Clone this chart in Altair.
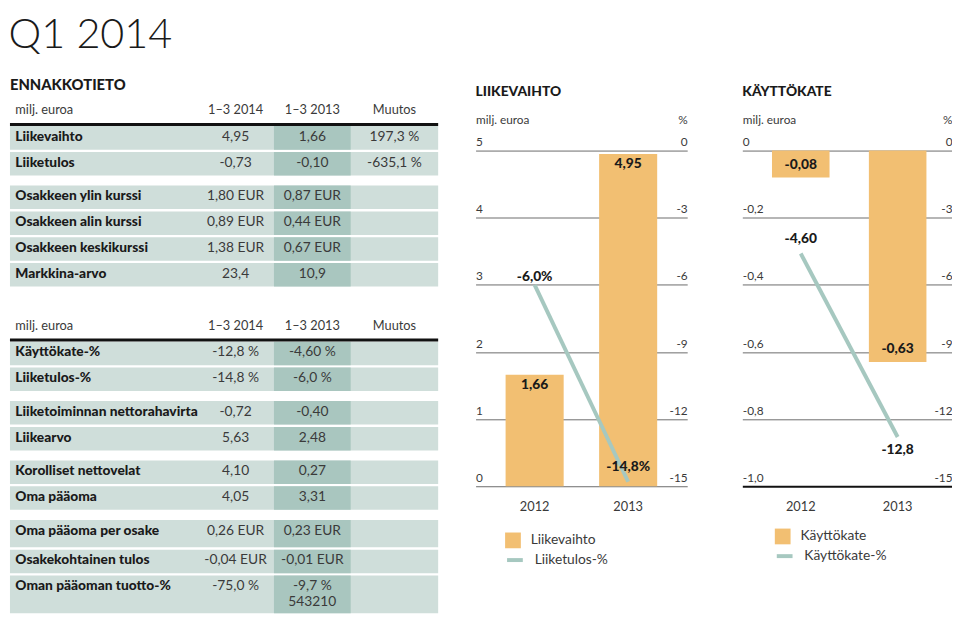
import altair as alt
import pandas as pd

FONT = "Lato"

# ---------------- data ----------------
page_title = "Q1 2014"
table_title = "ENNAKKOTIETO"
header_cols = ["milj. euroa", "1–3 2014", "1–3 2013", "Muutos"]

t1_labels = ["Liikevaihto", "Liiketulos", "Osakkeen ylin kurssi", "Osakkeen alin kurssi",
             "Osakkeen keskikurssi", "Markkina-arvo"]
t1_2014 = ["4,95", "-0,73", "1,80 EUR", "0,89 EUR", "1,38 EUR", "23,4"]
t1_2013 = ["1,66", "-0,10", "0,87 EUR", "0,44 EUR", "0,67 EUR", "10,9"]
t1_change = ["197,3 %", "-635,1 %", "", "", "", ""]
t1_notes = ["", "", "", "", "", ""]
t1_group = [0, 0, 1, 1, 1, 1]
t1_span = [1, 1, 1, 1, 1, 1]

t2_labels = ["Käyttökate-%", "Liiketulos-%", "Liiketoiminnan nettorahavirta", "Liikearvo",
             "Korolliset nettovelat", "Oma pääoma", "Oma pääoma per osake",
             "Osakekohtainen tulos", "Oman pääoman tuotto-%"]
t2_2014 = ["-12,8 %", "-14,8 %", "-0,72", "5,63", "4,10", "4,05", "0,26 EUR", "-0,04 EUR", "-75,0 %"]
t2_2013 = ["-4,60 %", "-6,0 %", "-0,40", "2,48", "0,27", "3,31", "0,23 EUR", "-0,01 EUR", "-9,7 %"]
t2_change = ["", "", "", "", "", "", "", "", ""]
t2_notes = ["", "", "", "", "", "", "", "", "543210"]
t2_group = [0, 0, 1, 1, 2, 2, 3, 3, 3]
t2_span = [1, 1, 1, 1, 1, 1, 1.15, 1, 1.55]

years = ["2012", "2013"]
liikevaihto = [1.66, 4.95]
liikevaihto_lbl = ["1,66", "4,95"]
liiketulos_pct = [-6.0, -14.8]
liiketulos_pct_lbl = ["-6,0%", "-14,8%"]
kayttokate = [-0.08, -0.63]
kayttokate_lbl = ["-0,08", "-0,63"]
kayttokate_pct = [-4.60, -12.8]
kayttokate_pct_lbl = ["-4,60", "-12,8"]

# ---------------- style ----------------
ROW_BG = "#cfdeda"
COL_BG = "#a9c6bf"
BAR = "#f2bf72"
LINE = "#a6c8c0"
INK = "#1a1a1a"
GREY = "#3a3a3a"

# ---------------- table layout (row units) ----------------
UNIT_PX = 26.25
GAP = 0.3
SEP = 0.09
ROWS_START = 0.92
TEXT_DY = 0.42
NOTE_DY = 1.04
HDR_TEXT_DY = 0.31
HDR_RULE_DY = 0.86
TABLE_GAP = 1.12

COL_W = [2.44, 1.0, 1.0, 1.14]
COL_EDGES = [0]
for w in COL_W:
    COL_EDGES.append(COL_EDGES[-1] + w)
XTOT = COL_EDGES[-1]
COL_CENTERS = [(COL_EDGES[i] + COL_EDGES[i + 1]) / 2 for i in range(4)]
LABEL_X = 0.07
TABLE_W = 435


def layout_rows(labels, a, b, c, notes, groups, spans, start):
    out = []
    y = start
    prev = None
    for lab, va, vb, vc, nt, g, s in zip(labels, a, b, c, notes, groups, spans):
        if prev is not None and g != prev:
            y += GAP
        out.append({"label": lab, "v14": va, "v13": vb, "chg": vc, "note": nt,
                    "top": y, "bot": y + s - SEP, "ty": y + TEXT_DY, "ny": y + NOTE_DY})
        y += s
        prev = g
    return out, y


rows1, end1 = layout_rows(t1_labels, t1_2014, t1_2013, t1_change, t1_notes, t1_group, t1_span, ROWS_START)
hdr2_top = end1 + TABLE_GAP
rows2, end2 = layout_rows(t2_labels, t2_2014, t2_2013, t2_change, t2_notes, t2_group, t2_span,
                          hdr2_top + ROWS_START)
rows = pd.DataFrame(rows1 + rows2)
YTOT = rows["bot"].max()
TABLE_H = round(YTOT * UNIT_PX)

hdr_rows = []
for top in [0.0, hdr2_top]:
    for i, h in enumerate(header_cols):
        hdr_rows.append({"text": h, "col": i, "y": top + HDR_TEXT_DY, "x": LABEL_X if i == 0 else COL_CENTERS[i]})
hdr = pd.DataFrame(hdr_rows)
rules = pd.DataFrame({"y": [HDR_RULE_DY, hdr2_top + HDR_RULE_DY]})

xs = alt.Scale(domain=[0, XTOT], nice=False, zero=False)
ys = alt.Scale(domain=[0, YTOT], reverse=True, nice=False, zero=False)

base = alt.Chart(rows)
bg = base.mark_rect(color=ROW_BG).encode(
    x=alt.X(datum=0, scale=xs, axis=None), x2=alt.datum(XTOT),
    y=alt.Y("top:Q", scale=ys, axis=None), y2="bot:Q")
colbg = base.mark_rect(color=COL_BG).encode(
    x=alt.X(datum=COL_EDGES[2], scale=xs, axis=None), x2=alt.datum(COL_EDGES[3]),
    y=alt.Y("top:Q", scale=ys, axis=None), y2="bot:Q")
lbl = base.mark_text(align="left", baseline="middle", font=FONT, fontWeight=900,
                     fontSize=14, color=INK).encode(
    x=alt.X(datum=LABEL_X, scale=xs, axis=None),
    y=alt.Y("ty:Q", scale=ys, axis=None), text="label:N")


def val_layer(field, col, yfield="ty"):
    return base.mark_text(align="center", baseline="middle", font=FONT, fontSize=14,
                          color=GREY).encode(
        x=alt.X(datum=COL_CENTERS[col], scale=xs, axis=None),
        y=alt.Y(f"{yfield}:Q", scale=ys, axis=None), text=f"{field}:N")


v14 = val_layer("v14", 1)
v13 = val_layer("v13", 2)
vch = val_layer("chg", 3)
vnote = val_layer("note", 2, "ny")

hdr_left = alt.Chart(hdr).transform_filter("datum.col == 0").mark_text(
    align="left", baseline="middle", font=FONT, fontSize=13, color=GREY).encode(
    x=alt.X("x:Q", scale=xs, axis=None), y=alt.Y("y:Q", scale=ys, axis=None), text="text:N")
hdr_mid = alt.Chart(hdr).transform_filter("datum.col > 0").mark_text(
    align="center", baseline="middle", font=FONT, fontSize=13, color=GREY).encode(
    x=alt.X("x:Q", scale=xs, axis=None), y=alt.Y("y:Q", scale=ys, axis=None), text="text:N")
hrule = alt.Chart(rules).mark_rule(color="#111", strokeWidth=3).encode(
    x=alt.X(datum=0, scale=xs, axis=None), x2=alt.datum(XTOT),
    y=alt.Y("y:Q", scale=ys, axis=None))

table = alt.layer(bg, colbg, hrule, lbl, v14, v13, vch, vnote, hdr_left, hdr_mid).properties(
    width=TABLE_W, height=TABLE_H,
    title=alt.TitleParams(table_title, anchor="start", font=FONT, fontSize=15, fontWeight=900,
                          color=INK, frame="group", offset=10))

# ---------------- charts ----------------
PH = 390     # plot height
PTOP = 49    # pixel position of the top gridline


def panel(title, bars, bars_lbl, bar_name, pct, pct_lbl, pct_name, ldomain, lvals, lexpr,
          width, band_pad, bar_dy, pct_dys, leg_x, leg_y, grid_cond=None):
    df = pd.DataFrame({"year": years, "bar": bars, "bar_lbl": bars_lbl, "pct": pct,
                       "pct_lbl": pct_lbl, "bser": bar_name, "pser": pct_name})
    pin, pout, palign = band_pad
    xenc = alt.X("year:N", scale=alt.Scale(paddingInner=pin, paddingOuter=pout, align=palign),
                 axis=alt.Axis(title=None, labelAngle=0, ticks=False, domain=False, grid=False,
                               labelPadding=15, labelFontSize=13, labelColor=GREY, labelFont=FONT))
    grid_color = "#6a6a6a"
    grid_w = 1
    if grid_cond is not None:
        grid_color = {"condition": {"test": grid_cond, "value": "#111"}, "value": "#6a6a6a"}
        grid_w = {"condition": {"test": grid_cond, "value": 2}, "value": 1}
    yl = alt.Y("bar:Q",
               scale=alt.Scale(domain=ldomain, range=[PH, PTOP], nice=False, zero=False),
               axis=alt.Axis(values=lvals, labelExpr=lexpr, title="milj. euroa", titleAngle=0,
                             titleX=0, titleY=18, titleAlign="left", titleBaseline="middle",
                             titleFont=FONT, titleFontSize=12, titleFontWeight="normal",
                             titleColor=GREY, ticks=False, tickSize=0, domain=False, grid=True,
                             gridColor=grid_color, gridWidth=grid_w, labelAlign="left",
                             labelBaseline="bottom", labelPadding=0, labelOffset=-2,
                             labelFont=FONT, labelFontSize=12, labelColor=GREY,
                             minExtent=0))
    yr = alt.Y("pct:Q",
               scale=alt.Scale(domain=[-15, 0], range=[PH, PTOP], nice=False, zero=False),
               axis=alt.Axis(orient="right", values=[0, -3, -6, -9, -12, -15],
                             labelExpr="'' + datum.value", title="%", titleAngle=0,
                             titleX=0, titleY=18, titleAlign="right", titleBaseline="middle",
                             titleFont=FONT, titleFontSize=12, titleFontWeight="normal",
                             titleColor=GREY, ticks=False, tickSize=0, domain=False, grid=False,
                             labelAlign="right", labelBaseline="bottom", labelPadding=0,
                             labelOffset=-2, labelFont=FONT, labelFontSize=12,
                             labelColor=GREY, minExtent=0))
    c = alt.Chart(df)
    barsm = c.mark_bar().encode(
        x=xenc, y=yl,
        fill=alt.Fill("bser:N", scale=alt.Scale(domain=[bar_name], range=[BAR]),
                      legend=alt.Legend(title=None, orient="none", legendX=leg_x, legendY=leg_y,
                                        symbolType="square", symbolSize=256, symbolStrokeWidth=0,
                                        labelFont=FONT, labelFontSize=14, labelColor=GREY,
                                        labelOffset=10, padding=0)))
    btext = c.mark_text(font=FONT, fontWeight=900, fontSize=14, color=INK,
                        baseline="middle", dy=bar_dy).encode(x=xenc, y=yl, text="bar_lbl:N")
    line = c.mark_line(strokeWidth=4, strokeCap="butt").encode(
        x=xenc, y=yr,
        stroke=alt.Stroke("pser:N", scale=alt.Scale(domain=[pct_name], range=[LINE]),
                          legend=alt.Legend(title=None, orient="none", legendX=leg_x,
                                            legendY=leg_y + 18, symbolType="stroke",
                                            symbolSize=256, symbolStrokeWidth=4,
                                            labelFont=FONT, labelFontSize=14, labelColor=GREY,
                                            labelOffset=10, padding=0)))
    ptexts = []
    for yv, dy in zip(years, pct_dys):
        ptexts.append(c.transform_filter(alt.datum.year == yv).mark_text(
            font=FONT, fontWeight=900, fontSize=14, color=INK, baseline="middle", dy=dy
        ).encode(x=xenc, y=yr, text="pct_lbl:N"))
    left = alt.layer(barsm, btext)
    right = alt.layer(line, *ptexts)
    return alt.layer(left, right).resolve_scale(y="independent").properties(
        width=width, height=PH,
        title=alt.TitleParams(title, anchor="start", font=FONT, fontSize=14, fontWeight=900,
                              color=INK, frame="group", offset=3))


ch1 = panel("LIIKEVAIHTO", liikevaihto, liikevaihto_lbl, "Liikevaihto",
            liiketulos_pct, liiketulos_pct_lbl, "Liiketulos-%",
            [0, 5], [0, 1, 2, 3, 4, 5], "'' + datum.value", 215, (0.379, 0.321, 0.5),
            10, [-8, -15], 30, 437)
ch2 = panel("KÄYTTÖKATE", kayttokate, kayttokate_lbl, "Käyttökate",
            kayttokate_pct, kayttokate_pct_lbl, "Käyttökate-%",
            [-1, 0], [0, -0.2, -0.4, -0.6, -0.8, -1.0],
            "datum.value == 0 ? '0' : replace(replace(format(datum.value, '.1f'), '.', ','), '\u2212', '-')",
            213, (0.406, 0.285, 0.537), -13, [-15, 13], 33, 433, grid_cond="datum.value < -0.99")

charts = alt.hconcat(ch1, ch2, spacing=56).resolve_scale(
    x="independent", y="independent", fill="independent", stroke="independent")

chart = alt.hconcat(table, charts, spacing=36).resolve_scale(
    x="independent", y="independent", fill="independent", stroke="independent"
).properties(
    padding={"top": 2, "left": 0, "right": 0, "bottom": 0},
    background="white",
    title=alt.TitleParams(page_title, anchor="start", font=FONT, fontSize=42, fontWeight=300,
                          color=INK, offset=21, baseline="top")
).configure_view(stroke="transparent", strokeWidth=0)

chart.save("out.html", embed_options={"renderer": "svg", "actions": False})
